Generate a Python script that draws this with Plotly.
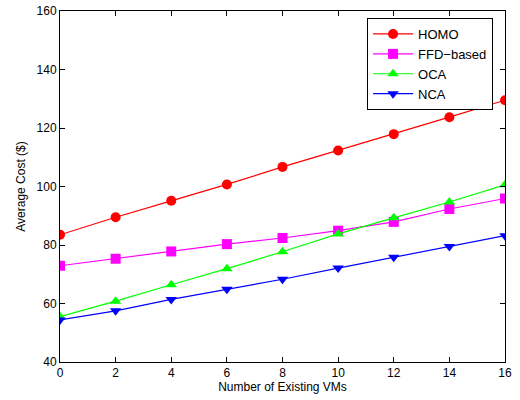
import plotly.graph_objects as go

x_vms = [0, 2, 4, 6, 8, 10, 12, 14, 16]
homo = [83.5, 89.5, 95.1, 100.7, 106.7, 112.3, 117.9, 123.7, 129.5]
ffd = [72.9, 75.3, 77.8, 80.3, 82.4, 84.9, 87.9, 92.3, 95.9]
oca = [55.5, 60.8, 66.4, 71.9, 77.7, 83.8, 89.3, 94.7, 100.6]
nca = [54.4, 57.5, 61.4, 64.9, 68.3, 72.1, 75.8, 79.5, 83.2]

series = [
    ("HOMO", homo, "#ff0000", "circle"),
    ("FFD\u2212based", ffd, "#ff00ff", "square"),
    ("OCA", oca, "#00ff00", "triangle-up"),
    ("NCA", nca, "#0000ff", "triangle-down"),
]

fig = go.Figure()
for name, vals, color, sym in series:
    fig.add_trace(go.Scatter(
        x=x_vms, y=vals, name=name, mode="lines+markers",
        line=dict(color=color, width=1.2),
        marker=dict(color=color, symbol=sym, size=10, line=dict(width=0)),
    ))

axis_common = dict(
    showgrid=False, zeroline=False, showline=True, linecolor="black", linewidth=1,
    mirror="ticks", ticks="inside", ticklen=5, tickcolor="black", automargin=False,
    tickfont=dict(family="Liberation Sans, Arial", size=12, color="black"),
)

fig.update_layout(
    width=520, height=400,
    margin=dict(l=60, r=15, t=11, b=38),
    paper_bgcolor="white", plot_bgcolor="white",
    font=dict(family="Liberation Sans, Arial", size=12, color="black"),
    xaxis=dict(range=[0, 16], tickvals=x_vms,
               title=dict(text="Number of Existing VMs", font=dict(size=12), standoff=2),
               **axis_common),
    yaxis=dict(range=[40, 160], tickvals=[40, 60, 80, 100, 120, 140, 160],
               title=dict(text="Average Cost ($)", font=dict(size=12), standoff=8),
               **axis_common),
    legend=dict(x=0.69, y=0.98, xanchor="left", yanchor="top",
                bgcolor="white", bordercolor="black", borderwidth=1,
                font=dict(size=13), tracegroupgap=0, itemwidth=40),
    showlegend=True,
)

fig.write_html("out.html")
